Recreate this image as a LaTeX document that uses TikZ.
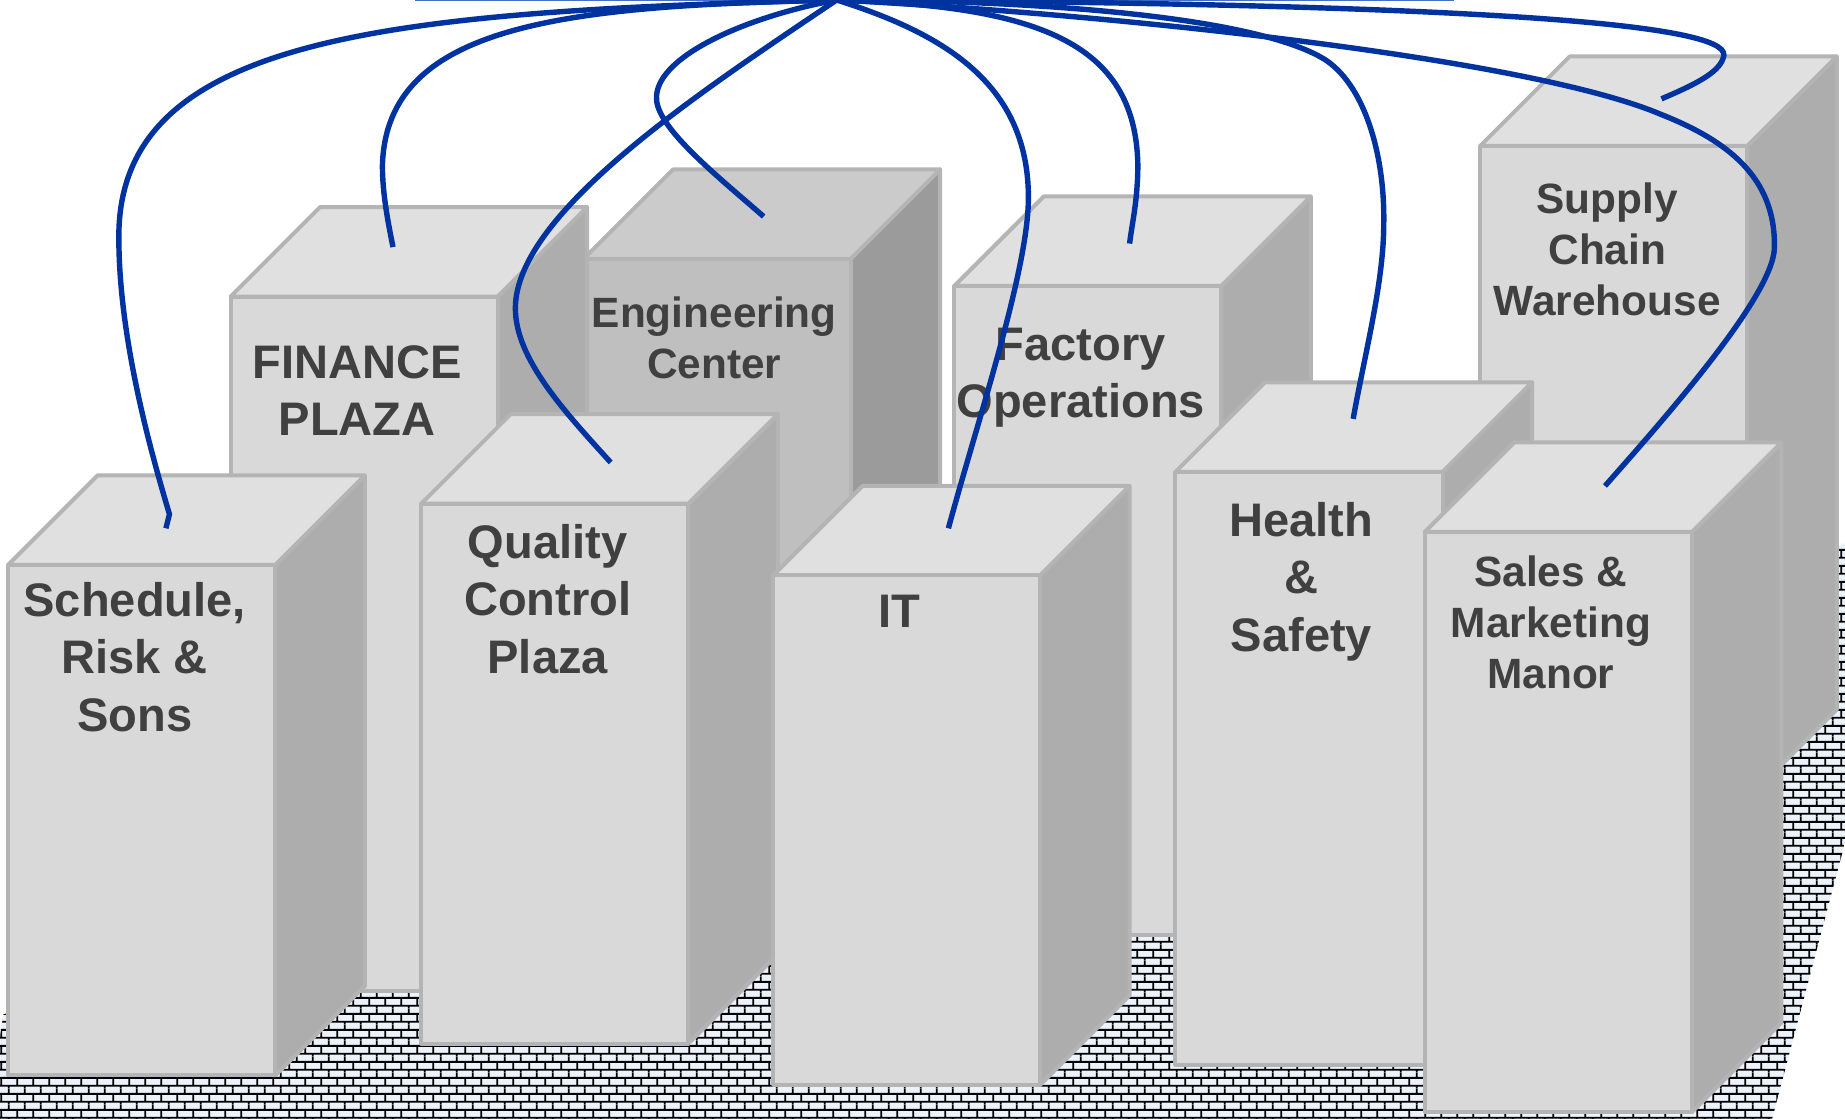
\documentclass[tikz,border=0pt]{standalone}
\usepackage{fontspec}
\setmainfont{Liberation Sans}
\usetikzlibrary{patterns.meta}

\definecolor{frontc}{HTML}{D9D9D9}
\definecolor{topc}{HTML}{E0E0E0}
\definecolor{sidec}{HTML}{ADADAD}
\definecolor{edgec}{HTML}{B4B4B4}
\definecolor{efront}{HTML}{BFBFBF}
\definecolor{etop}{HTML}{CBCBCB}
\definecolor{eside}{HTML}{9B9B9B}
\definecolor{linkc}{RGB}{0,51,160}
\definecolor{thinc}{RGB}{70,110,200}
\definecolor{labelc}{HTML}{404040}
\definecolor{floorc}{HTML}{EBF2FC}

\tikzdeclarepattern{
  name=brickwall,
  type=colored,
  bounding box={(0pt,0pt) and (6.8pt,6.94pt)},
  tile size={(6.8pt,6.94pt)},
  code={
    \draw[black,line width=0.8pt]
      (0pt,1pt) -- (6.8pt,1pt)
      (0pt,4.47pt) -- (6.8pt,4.47pt)
      (1pt,1pt) -- (1pt,4.47pt)
      (4.4pt,4.47pt) -- (4.4pt,6.94pt)
      (4.4pt,0pt) -- (4.4pt,1pt);
  }
}

\newcommand\ctrlines[1]{\vtop{\halign{\hfil##\hfil\cr#1\crcr}}}

\tikzset{
  face/.style={draw=edgec,line width=1.7pt,line join=round},
  link/.style={draw=linkc,line width=2.3pt},
  lbl/.style={text=labelc,inner sep=0pt,anchor=base,font=\bfseries\fontsize{20}{24.4}\selectfont},
  lbls/.style={lbl,font=\bfseries\fontsize{18}{21.7}\selectfont},
}

% #1 left x, #2 front top y, #3 bottom y, #4 front, #5 top, #6 side, #7 name
\newcommand\bldg[7]{%
  \coordinate (#7-ftl) at (#1,#2);
  \filldraw[face,fill=#6] ({#1+227},{#2}) -- ({#1+303},{#2-76}) -- ({#1+303},{#3-76}) -- ({#1+227},{#3}) -- cycle;
  \filldraw[face,fill=#5] (#1,#2) -- ({#1+76},{#2-76}) -- ({#1+303},{#2-76}) -- ({#1+227},{#2}) -- cycle;
  \filldraw[face,fill=#4] (#1,#2) rectangle ({#1+227},{#3});
}

\begin{document}
\begin{tikzpicture}[x=0.5pt,y=-0.5pt]
\useasboundingbox (0,0) rectangle (1568,951);
\clip (0,0) rectangle (1568,951);

% brick floor
\fill[floorc] (3,862) -- (1568,462) -- (1568,716) -- (1506,951) -- (0,951) -- (0,880) -- cycle;
\fill[pattern=brickwall] (3,862) -- (1568,462) -- (1568,716) -- (1506,951) -- (0,951) -- (0,880) -- cycle;

% buildings, back to front
\bldg{1258}{124}{679}{frontc}{topc}{sidec}{sup}
\bldg{496}{220}{800}{efront}{etop}{eside}{eng}
\bldg{811}{243}{795}{frontc}{topc}{sidec}{fac}
\bldg{196}{252}{842}{frontc}{topc}{sidec}{fin}
\bldg{999}{401}{905}{frontc}{topc}{sidec}{hea}
\bldg{1211}{452}{945}{frontc}{topc}{sidec}{sal}
\bldg{358}{428}{887}{frontc}{topc}{sidec}{qua}
\bldg{7}{480}{914}{frontc}{topc}{sidec}{sch}
\bldg{657}{489}{922}{frontc}{topc}{sidec}{it}

% labels
\node[lbl]  (lab-sch) at (114.5,524) {\ctrlines{Schedule,\cr Risk \&\cr Sons}};
\node[lbl]  (lab-fin) at (303.5,321.5) {\ctrlines{FINANCE\cr PLAZA}};
\node[lbls] (lab-eng) at (607,278) {\ctrlines{Engineering\cr Center}};
\node[lbl]  (lab-fac) at (918.5,306) {\ctrlines{Factory\cr Operations}};
\node[lbl]  (lab-it)  at (764,533) {\ctrlines{IT}};
\node[lbl]  (lab-qua) at (465.5,474.5) {\ctrlines{Quality\cr Control\cr Plaza}};
\node[lbl]  (lab-hea) at (1106,456) {\ctrlines{Health\cr \&\cr Safety}};
\node[lbls] (lab-sup) at (1366,181.5) {\ctrlines{Supply\cr Chain\cr Warehouse}};
\node[lbls] (lab-sal) at (1318,498.4) {\ctrlines{Sales \&\cr Marketing\cr Manor}};

% connectors
\coordinate (hub) at (711,0);
\coordinate (top-l) at (353,0.6);
\coordinate (top-r) at (1236,0.6);
\coordinate (end-sch) at (141,449);
\coordinate (end-fin) at (334,210);
\coordinate (end-eng) at (649,184);
\coordinate (end-qua) at (519,393);
\coordinate (end-it)  at (806,449);
\coordinate (end-fac) at (960,207);
\coordinate (end-hea) at (1150,356);
\coordinate (end-sup) at (1412,84);
\coordinate (end-sal) at (1364,413);

\draw[thinc,line width=0.6pt] (top-l) -- (top-r);

\draw[link] (hub) .. controls (330,10) and (100,30) .. (101,202)
                  .. controls (101,290) and (130,390) .. (144,437) -- (end-sch);
\draw[link] (hub) .. controls (480,5) and (328,20) .. (325,141)
                  .. controls (325,165) and (330,190) .. (end-fin);
\draw[link] (hub) .. controls (600,75) and (438,180) .. (438,262)
                  .. controls (438,305) and (480,350) .. (end-qua);
\draw[link] (hub) .. controls (630,15) and (555,50) .. (558,85)
                  .. controls (560,110) and (610,150) .. (end-eng);
\draw[link] (hub) .. controls (800,28) and (874,70) .. (874,168)
                  .. controls (874,230) and (830,360) .. (end-it);
\draw[link] (hub) .. controls (880,5) and (965,35) .. (967,140)
                  .. controls (967,170) and (962,190) .. (end-fac);
\draw[link] (hub) .. controls (880,0) and (1065,14) .. (1125,50)
                  .. controls (1159,71) and (1177,130) .. (1176,190)
                  .. controls (1176,240) and (1160,300) .. (end-hea);
\draw[link] (hub) .. controls (1250,3) and (1468,20) .. (1465,47)
                  .. controls (1463,60) and (1445,70) .. (end-sup);
\draw[link] (hub) .. controls (950,12) and (1300,50) .. (1411,97)
                  .. controls (1467,119) and (1509,150) .. (1508,210)
                  .. controls (1508,250) and (1417,353) .. (end-sal);
\end{tikzpicture}
\end{document}
